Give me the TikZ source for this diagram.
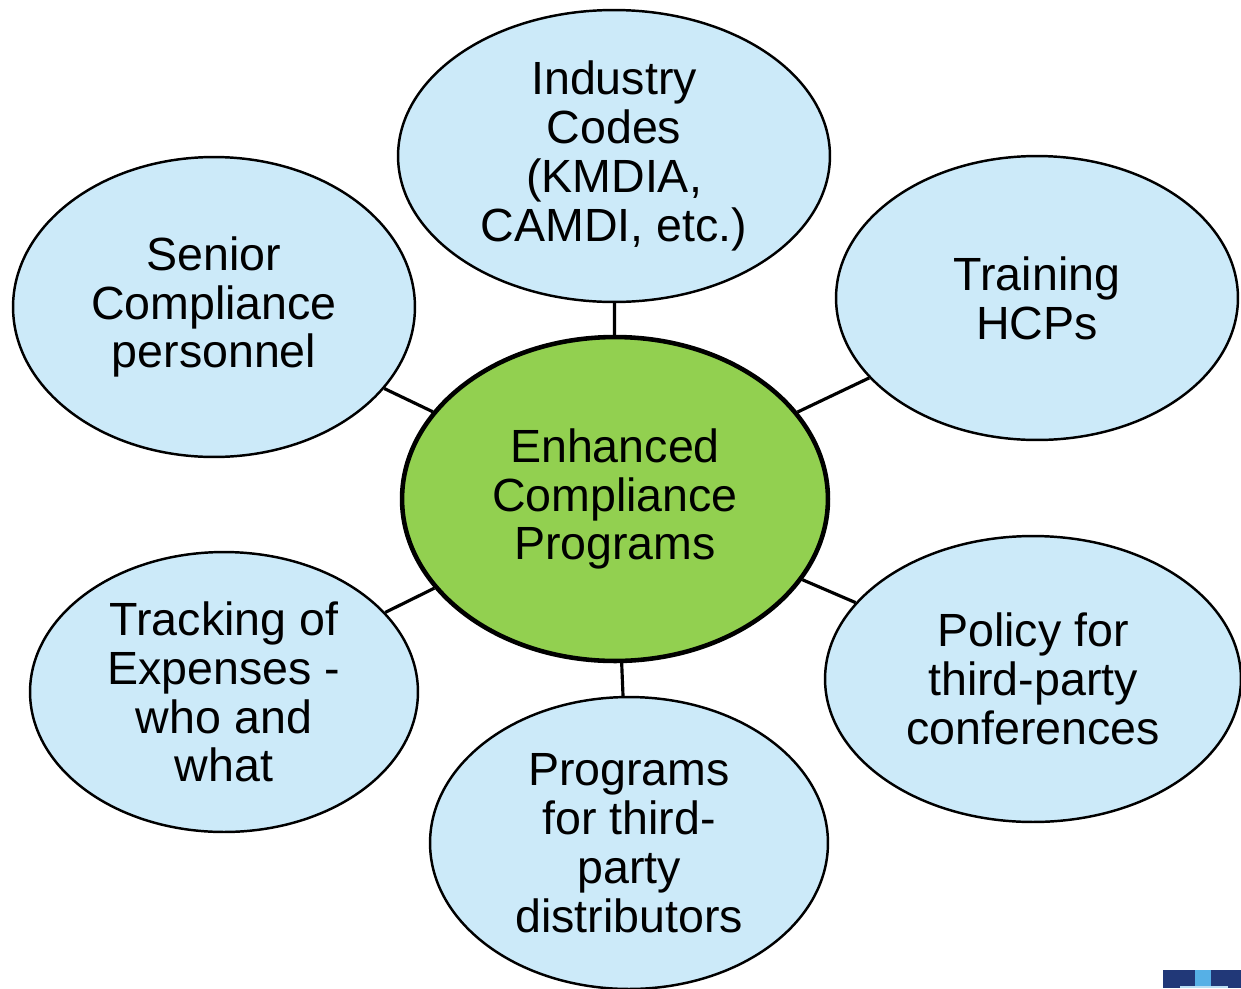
\documentclass[tikz,border=0pt]{standalone}
\usepackage{fontspec}
\setmainfont{Liberation Sans}
\usetikzlibrary{shapes.geometric}
\definecolor{bubble}{RGB}{204,234,249}
\definecolor{hub}{RGB}{146,208,80}
\definecolor{navy}{RGB}{33,56,120}
\definecolor{sky}{RGB}{86,176,230}
\tikzset{
  txt/.style={font=\fontsize{26.5}{27.8}\selectfont, align=center, text=black},
  outer/.style={ellipse, draw=black, line width=1.4pt, fill=bubble, inner sep=0pt, txt},
  center/.style={ellipse, draw=black, line width=2.6pt, fill=hub, inner sep=0pt, txt},
  link/.style={draw=black, line width=1.8pt}
}
\begin{document}
\begin{tikzpicture}[x=0.02cm, y=-0.02cm]
\useasboundingbox (0,0) rectangle (1241,988);
\fill[white] (0,0) rectangle (1241,988);
\node[center, minimum width=8.52cm, minimum height=6.48cm] (hubn) at (615,499) {Enhanced\\Compliance\\Programs};
\node[outer, minimum width=8.64cm, minimum height=5.84cm] (top) at (614,156) {Industry\\Codes\\(KMDIA,\\CAMDI, etc.)};
\node[outer, minimum width=8.04cm, minimum height=6.0cm] (senior) at (214,307) {Senior\\Compliance\\personnel};
\node[outer, minimum width=8.04cm, minimum height=5.68cm] (train) at (1037,298) {Training\\HCPs};
\node[outer, minimum width=7.76cm, minimum height=5.6cm] (track) at (224,692) {Tracking of\\Expenses -\\who and\\what};
\node[outer, minimum width=8.32cm, minimum height=5.72cm] (policy) at (1033,679) {Policy for\\third-party\\conferences};
\node[outer, minimum width=7.96cm, minimum height=5.84cm] (prog) at (629,843) {Programs\\for third-\\party\\distributors};
\draw[link] (hubn) -- (top);
\draw[link] (hubn) -- (senior);
\draw[link] (hubn) -- (train);
\draw[link] (hubn) -- (track);
\draw[link] (hubn) -- (policy);
\draw[link] (hubn) -- (prog);
% corner logo fragment
\fill[navy] (1163,970) rectangle (1195,988);
\fill[sky] (1195,970) rectangle (1211,988);
\fill[navy] (1211,970) rectangle (1241,988);
\fill[sky!40] (1180,986) rectangle (1228,988);
\end{tikzpicture}
\end{document}
